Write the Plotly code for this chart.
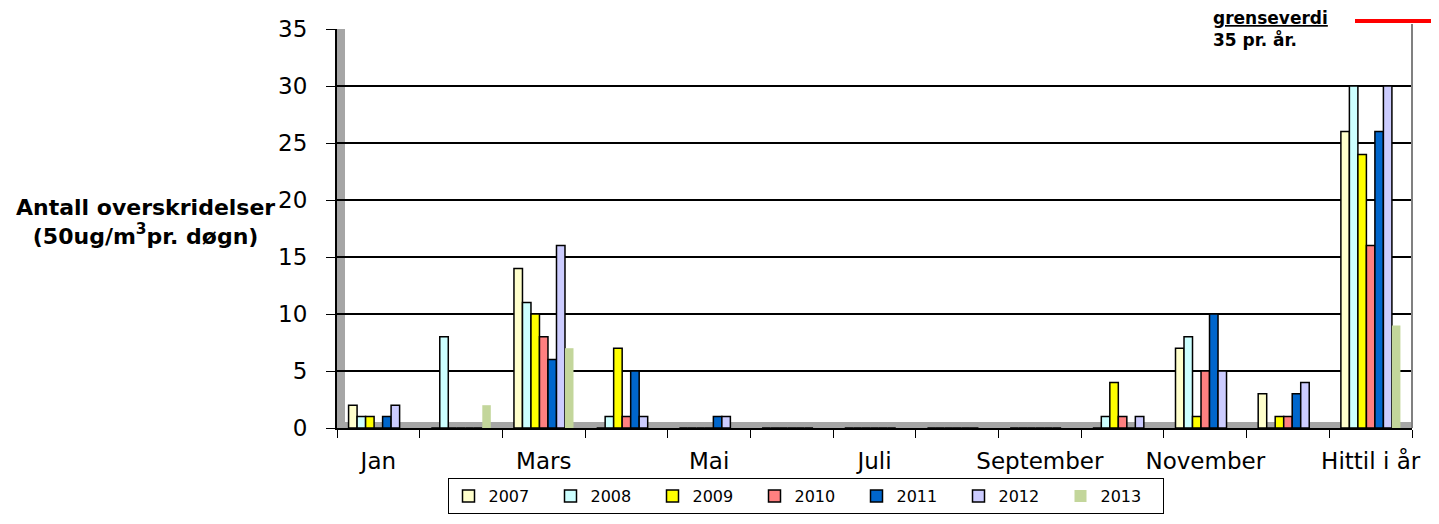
import plotly.graph_objects as go

categories = ["Jan", "Feb", "Mars", "Apr", "Mai", "Jun", "Juli", "Aug",
              "September", "Okt", "November", "Des", "Hittil i år"]
tick_labels = ["Jan", "", "Mars", "", "Mai", "", "Juli", "", "September", "",
               "November", "", "Hittil i år"]

v2007 = [2, 0, 14, 0, 0, 0, 0, 0, 0, 0, 7, 3, 26]
v2008 = [1, 8, 11, 1, 0, 0, 0, 0, 0, 1, 8, 0, 30]
v2009 = [1, 0, 10, 7, 0, 0, 0, 0, 0, 4, 1, 1, 24]
v2010 = [0, 0, 8, 1, 0, 0, 0, 0, 0, 1, 5, 1, 16]
v2011 = [1, 0, 6, 5, 1, 0, 0, 0, 0, 0, 10, 3, 26]
v2012 = [2, 0, 16, 1, 1, 0, 0, 0, 0, 1, 5, 4, 30]
v2013 = [0, 2, 7, None, None, None, None, None, None, None, None, None, 9]

series = [
    ("2007", v2007, "#FFFFCC", True),
    ("2008", v2008, "#CCFFFF", True),
    ("2009", v2009, "#FFFF00", True),
    ("2010", v2010, "#FF8080", True),
    ("2011", v2011, "#0066CC", True),
    ("2012", v2012, "#CCCCFF", True),
    ("2013", v2013, "#C3D69B", False),
]

fig = go.Figure()
for name, vals, color, outline in series:
    fig.add_trace(go.Bar(
        x=categories, y=vals, name=name,
        marker=dict(color=color,
                    line=dict(color="black" if outline else color, width=1.5 if outline else 0)),
    ))

FONT = "DejaVu Sans, Liberation Sans, Arial, sans-serif"
OFF = 8  # page body margin compensation
L, R, T, B = 337 - OFF, 1412 - OFF, 29 - OFF, 428 - OFF
PW, PH = R - L, B - T


def px(x):
    return (x - OFF - L) / PW


def py(y):
    return (B - (y - OFF)) / PH


fig.update_layout(
    width=1439, height=524,
    margin=dict(l=L, r=1439 - R, t=T, b=524 - B, autoexpand=False),
    paper_bgcolor="white", plot_bgcolor="white",
    barmode="group", bargap=0.28, bargroupgap=0.0,
    font=dict(family=FONT, color="black"),
    showlegend=True,
    legend=dict(orientation="h", x=px(805.5), xanchor="center", y=py(478), yanchor="top",
                bordercolor="black", borderwidth=1, font=dict(size=16, family=FONT),
                entrywidth=57, itemwidth=30, traceorder="normal"),
    xaxis=dict(
        type="category", tickmode="array", tickvals=categories, ticktext=tick_labels,
        tickson="boundaries", ticks="outside", ticklen=8, tickcolor="black", tickangle=0,
        ticklabelstandoff=12, automargin=False,
        showline=True, linecolor="black", linewidth=1.5,
        tickfont=dict(size=23, family=FONT), showgrid=False,
    ),
    yaxis=dict(
        range=[0, 35], dtick=5, showgrid=True, gridcolor="black", gridwidth=2,
        ticks="outside", ticklen=9, tickcolor="black", ticklabelstandoff=14,
        automargin=False,
        showline=True, linecolor="black", linewidth=2,
        tickfont=dict(size=23, family=FONT), zeroline=False,
    ),
    annotations=[
        dict(xref="paper", yref="paper", x=px(145), y=py(222), xanchor="center", yanchor="middle",
             text="<b>Antall overskridelser<br>(50ug/m<sup>3</sup>pr. døgn)</b>",
             showarrow=False, font=dict(size=22, family=FONT), align="center"),
        dict(xref="paper", yref="paper", x=px(1211), y=py(6),
             xanchor="left", yanchor="top",
             text="<b><u>grenseverdi</u><br>35 pr. år.</b>",
             showarrow=False, font=dict(size=17, family=FONT), align="left"),
    ],
    shapes=[
        # gray side wall
        dict(type="rect", xref="paper", yref="paper", x0=0, x1=px(345), y0=0, y1=1,
             fillcolor="#A6A6A6", line=dict(width=0), layer="below"),
        # gray floor
        dict(type="rect", xref="paper", yref="paper", x0=0, x1=1, y0=0, y1=py(422),
             fillcolor="#A6A6A6", line=dict(width=0), layer="below"),
        # right edge
        dict(type="line", xref="paper", yref="paper", x0=1, x1=1, y0=0, y1=py(24),
             line=dict(color="#808080", width=2)),
        # limit marker
        dict(type="line", xref="paper", yref="paper",
             x0=px(1355), x1=px(1432), y0=py(21), y1=py(21),
             line=dict(color="red", width=4)),
    ],
)

fig.write_html("out.html")
